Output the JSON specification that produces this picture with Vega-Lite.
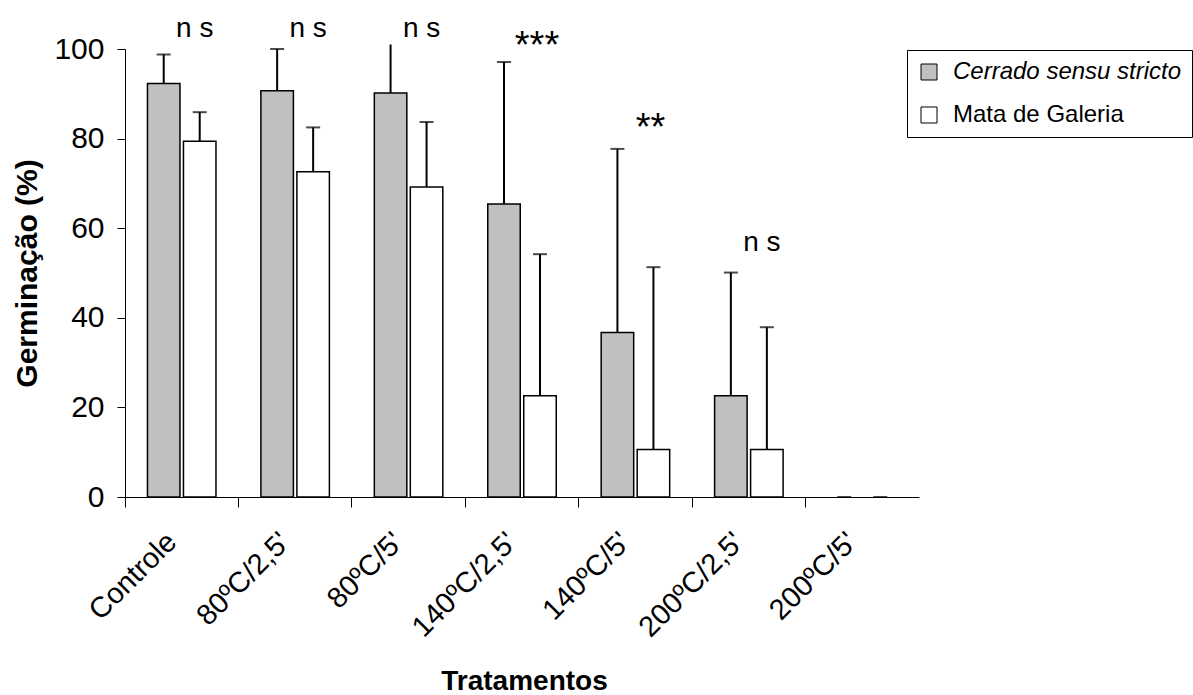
{
  "$schema": "https://vega.github.io/schema/vega-lite/v6.json",
  "autosize": {"type": "none"},
  "width": 794,
  "height": 448,
  "padding": {"left": 125, "top": 49, "right": 274, "bottom": 198},
  "background": "white",
  "config": {
    "font": "Liberation Sans",
    "view": {"stroke": null}
  },
  "datasets": {
    "bars": [
      {"t": "Controle", "s": "Cerrado sensu stricto", "v": 92.3, "hi": 98.8},
      {"t": "Controle", "s": "Mata de Galeria", "v": 79.4, "hi": 85.9},
      {"t": "80ºC/2,5'", "s": "Cerrado sensu stricto", "v": 90.7, "hi": 100},
      {"t": "80ºC/2,5'", "s": "Mata de Galeria", "v": 72.6, "hi": 82.5},
      {"t": "80ºC/5'", "s": "Cerrado sensu stricto", "v": 90.2, "hi": 101},
      {"t": "80ºC/5'", "s": "Mata de Galeria", "v": 69.2, "hi": 83.7},
      {"t": "140ºC/2,5'", "s": "Cerrado sensu stricto", "v": 65.4, "hi": 97.1},
      {"t": "140ºC/2,5'", "s": "Mata de Galeria", "v": 22.6, "hi": 54.2},
      {"t": "140ºC/5'", "s": "Cerrado sensu stricto", "v": 36.7, "hi": 77.7},
      {"t": "140ºC/5'", "s": "Mata de Galeria", "v": 10.6, "hi": 51.3},
      {"t": "200ºC/2,5'", "s": "Cerrado sensu stricto", "v": 22.6, "hi": 50.1},
      {"t": "200ºC/2,5'", "s": "Mata de Galeria", "v": 10.6, "hi": 37.9},
      {"t": "200ºC/5'", "s": "Cerrado sensu stricto", "v": 0, "hi": 0},
      {"t": "200ºC/5'", "s": "Mata de Galeria", "v": 0, "hi": 0}
    ],
    "notes": [
      {"t": "Controle", "txt": "n s", "y": 102.7},
      {"t": "80ºC/2,5'", "txt": "n s", "y": 102.7},
      {"t": "80ºC/5'", "txt": "n s", "y": 102.7},
      {"t": "140ºC/2,5'", "txt": "***", "y": 97.9},
      {"t": "140ºC/5'", "txt": "**", "y": 79.6},
      {"t": "200ºC/2,5'", "txt": "n s", "y": 55.0}
    ]
  },
  "encoding": {
    "x": {
      "field": "t",
      "type": "nominal",
      "sort": ["Controle", "80ºC/2,5'", "80ºC/5'", "140ºC/2,5'", "140ºC/5'", "200ºC/2,5'", "200ºC/5'"],
      "scale": {"paddingInner": 0, "paddingOuter": 0},
      "axis": {
        "title": "Tratamentos",
        "titleFontSize": 28,
        "titleFontWeight": "bold",
        "titleColor": "black",
        "titleX": 399,
        "titleY": 192,
        "titleBaseline": "alphabetic",
        "bandPosition": 0,
        "tickSize": 10,
        "tickColor": "black",
        "domainColor": "black",
        "labelAngle": -45,
        "labelAlign": "right",
        "labelBaseline": "middle",
        "labelPadding": 30,
        "labelOffset": -10,
        "labelFontSize": 29,
        "labelColor": "black",
        "labelLimit": 400
      }
    }
  },
  "layer": [
    {
      "data": {"name": "bars"},
      "transform": [{"filter": "datum.v > 0"}],
      "mark": {"type": "bar", "stroke": "black", "strokeWidth": 1.5},
      "encoding": {
        "xOffset": {"field": "s", "type": "nominal", "scale": {"paddingInner": 0.097, "paddingOuter": 0.624}},
        "y": {
          "field": "v",
          "type": "quantitative",
          "scale": {"domain": [0, 100], "nice": false},
          "axis": {
            "values": [0, 20, 40, 60, 80, 100],
            "grid": false,
            "tickSize": 8,
            "tickColor": "black",
            "domainColor": "black",
            "labelFontSize": 30,
            "labelColor": "black",
            "labelPadding": 13,
            "title": "Germinação (%)",
            "titleFontSize": 30,
            "titleFontWeight": "bold",
            "titleColor": "black",
            "titleX": -98,
            "titleY": 224,
            "titleBaseline": "middle"
          }
        },
        "fill": {
          "field": "s",
          "type": "nominal",
          "scale": {"domain": ["Cerrado sensu stricto", "Mata de Galeria"], "range": ["#c0c0c0", "#ffffff"]},
          "legend": {
            "title": null,
            "orient": "none",
            "legendX": 782,
            "legendY": 1,
            "strokeColor": "black",
            "fillColor": "white",
            "padding": 10,
            "symbolType": "square",
            "symbolSize": 256,
            "symbolStrokeColor": "black",
            "symbolStrokeWidth": 1,
            "labelFontSize": 24,
            "labelColor": "black",
            "labelOffset": 12,
            "rowPadding": 19,
            "labelLimit": 400,
            "labelFontStyle": {"expr": "datum.label === 'Cerrado sensu stricto' ? 'italic' : 'normal'"}
          }
        }
      }
    },
    {
      "data": {"name": "bars"},
      "mark": {"type": "rule", "color": "black", "strokeWidth": 2},
      "encoding": {
        "xOffset": {"field": "s", "type": "nominal", "scale": {"paddingInner": 0.097, "paddingOuter": 0.624}},
        "y": {"field": "v", "type": "quantitative"},
        "y2": {"field": "hi"}
      }
    },
    {
      "data": {"name": "bars"},
      "transform": [{"filter": "datum.hi <= 100"}],
      "mark": {"type": "tick", "color": "black", "thickness": 2, "size": 14},
      "encoding": {
        "xOffset": {"field": "s", "type": "nominal", "scale": {"paddingInner": 0.097, "paddingOuter": 0.624}},
        "y": {"field": "hi", "type": "quantitative"}
      }
    },
    {
      "data": {"name": "notes"},
      "transform": [{"filter": "datum.txt === 'n s'"}],
      "mark": {"type": "text", "fontSize": 28, "dx": 13, "baseline": "alphabetic", "align": "center", "color": "black", "letterSpacing": -3},
      "encoding": {
        "y": {"field": "y", "type": "quantitative"},
        "text": {"field": "txt"}
      }
    },
    {
      "data": {"name": "notes"},
      "transform": [{"filter": "datum.txt !== 'n s'"}],
      "mark": {"type": "text", "fontSize": 38, "dx": 15, "baseline": "alphabetic", "align": "center", "color": "black"},
      "encoding": {
        "y": {"field": "y", "type": "quantitative"},
        "text": {"field": "txt"}
      }
    }
  ]
}
